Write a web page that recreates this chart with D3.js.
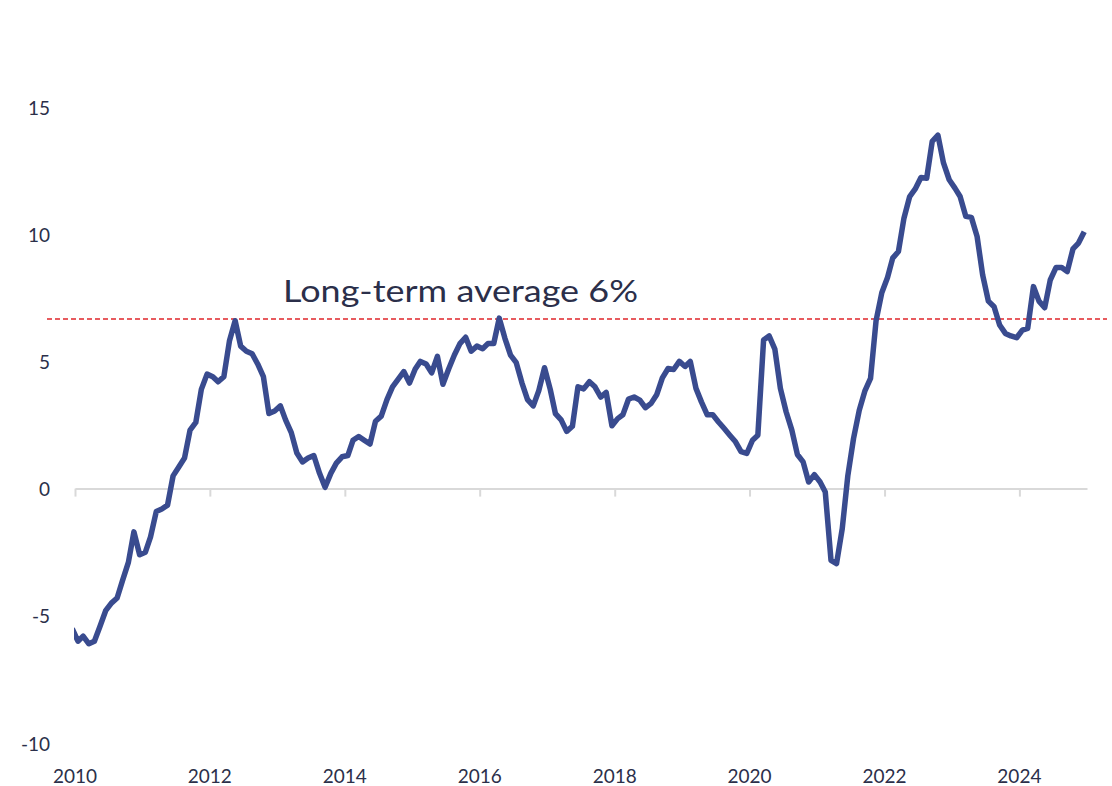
<!DOCTYPE html>
<html>
<head>
<meta charset="utf-8">
<script src="https://cdn.jsdelivr.net/npm/d3@7"></script>
<style>
  html, body { margin: 0; padding: 0; background: #ffffff; }
  svg { display: block; }
  text { font-family: "Lato", "Open Sans", sans-serif; fill: #2b2f4a; }
</style>
</head>
<body>
<svg id="chart" width="1112" height="786"></svg>
<script>
// ---- data (monthly, Jan 2010 .. Jan 2025) ----
const startMonth = "2010-01";
const values = [
  -5.5, -6.0, -5.8, -6.1, -6.0, -5.4, -4.8, -4.5, -4.3, -3.6, -2.9, -1.7,
  -2.6, -2.5, -1.9, -0.9, -0.8, -0.65, 0.5, 0.85, 1.2, 2.3, 2.6, 3.9,
  4.5, 4.4, 4.2, 4.4, 5.8, 6.6, 5.6, 5.4, 5.3, 4.9, 4.4, 2.95,
  3.05, 3.25, 2.7, 2.2, 1.4, 1.05, 1.2, 1.3, 0.6, 0.05, 0.6, 1.0,
  1.25, 1.3, 1.9, 2.05, 1.9, 1.75, 2.65, 2.85, 3.5, 4.0, 4.3, 4.6,
  4.15, 4.7, 5.0, 4.9, 4.55, 5.2, 4.1, 4.7, 5.25, 5.7, 5.95, 5.4,
  5.6, 5.5, 5.7, 5.7, 6.7, 5.9, 5.25, 4.95, 4.15, 3.5, 3.25, 3.85,
  4.75, 3.9, 2.95, 2.7, 2.25, 2.45, 4.0, 3.92, 4.2, 4.0, 3.6, 3.78,
  2.47, 2.75, 2.9, 3.52, 3.6, 3.48, 3.18, 3.35, 3.7, 4.35, 4.72, 4.68,
  5.0, 4.8, 5.0, 3.94, 3.4, 2.9, 2.9, 2.62, 2.36, 2.1, 1.84, 1.45,
  1.38, 1.9, 2.1, 5.84, 6.0, 5.48, 3.94, 3.02, 2.3, 1.34, 1.05, 0.26,
  0.55, 0.26, -0.13, -2.82, -2.95, -1.57, 0.5, 1.97, 3.08, 3.83, 4.33, 6.6,
  7.7, 8.3, 9.06, 9.32, 10.63, 11.48, 11.78, 12.23, 12.2, 13.65, 13.89, 12.8,
  12.14, 11.81, 11.48, 10.7, 10.66, 9.91, 8.4, 7.37, 7.15, 6.43, 6.1, 6.0,
  5.93, 6.23, 6.3, 7.94, 7.37, 7.11, 8.2, 8.69, 8.69, 8.53, 9.42, 9.65,
  10.1
];
const yTicks = [-10, -5, 0, 5, 10, 15];
const xTickYears = [2010, 2012, 2014, 2016, 2018, 2020, 2022, 2024];
const averageValue = 6.67;
const averageLabel = "Long-term average 6%";

// ---- build ----
const parse = d3.timeParse("%Y-%m");
const t0 = parse(startMonth);
// points sit half a month before the month start, as in the reference
const series = values.map((v, i) => ({
  date: d3.timeDay.offset(d3.timeMonth.offset(t0, i), -15),
  value: v
}));

const svg = d3.select("#chart");

const x = d3.scaleTime()
  .domain([new Date(2010, 0, 1), new Date(2025, 0, 1)])
  .range([75, 1087]);
const y = d3.scaleLinear()
  .domain([-10, 15])
  .range([743, 107]);

svg.append("defs").append("clipPath").attr("id", "plotclip")
  .append("rect").attr("x", 74).attr("y", 0).attr("width", 1038).attr("height", 786);

// y tick labels
svg.append("g")
  .selectAll("text")
  .data(yTicks)
  .join("text")
  .attr("x", 50)
  .attr("y", d => y(d))
  .attr("text-anchor", "end")
  .attr("dominant-baseline", "central")
  .attr("font-size", 19)
  .text(d => d);

// x axis line at zero
const xAxis = d3.axisBottom(x)
  .tickValues(xTickYears.map(yr => new Date(yr, 0, 1)))
  .tickSize(8)
  .tickSizeOuter(0)
  .tickFormat("");
const gx = svg.append("g")
  .attr("transform", `translate(0,${y(0)})`)
  .call(xAxis);
gx.select(".domain").attr("stroke", "#d9d9d9").attr("stroke-width", 2);
gx.selectAll(".tick line").attr("stroke", "#d9d9d9").attr("stroke-width", 2);

// x tick labels at bottom
svg.append("g")
  .selectAll("text")
  .data(xTickYears)
  .join("text")
  .attr("x", d => x(new Date(d, 0, 1)))
  .attr("y", 775)
  .attr("text-anchor", "middle")
  .attr("dominant-baseline", "central")
  .attr("font-size", 19)
  .text(d => d);

// average line
svg.append("line")
  .attr("x1", 47)
  .attr("x2", 1107)
  .attr("y1", y(averageValue))
  .attr("y2", y(averageValue))
  .attr("stroke", "#e0262b")
  .attr("stroke-width", 1.5)
  .attr("stroke-dasharray", "5,3");

svg.append("text")
  .attr("x", 283)
  .attr("y", 302)
  .attr("font-size", 31)
  .attr("textLength", 355)
  .attr("lengthAdjust", "spacingAndGlyphs")
  .text(averageLabel);

// series line
const line = d3.line()
  .x(d => x(d.date))
  .y(d => y(d.value));
svg.append("path")
  .datum(series)
  .attr("clip-path", "url(#plotclip)")
  .attr("fill", "none")
  .attr("stroke", "#394b8f")
  .attr("stroke-width", 5.5)
  .attr("stroke-linejoin", "round")
  .attr("d", line);
</script>
</body>
</html>
